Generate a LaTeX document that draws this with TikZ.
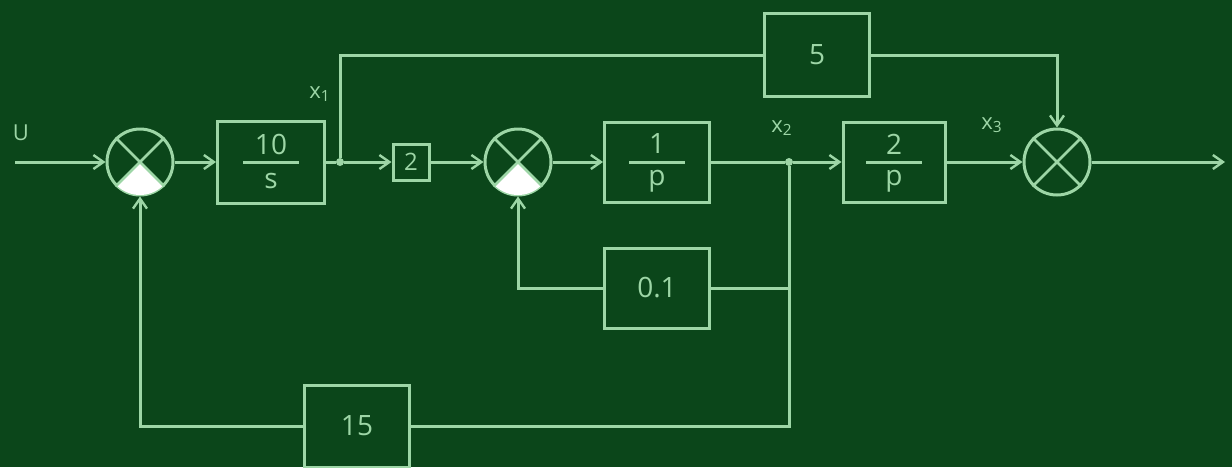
\documentclass[tikz,border=0pt]{standalone}
\usepackage{fontspec}
\setmainfont{Open Sans}
\usetikzlibrary{arrows.meta}
\definecolor{board}{HTML}{0B461A}
\definecolor{chalk}{HTML}{9DD6A6}
\tikzset{
  wire/.style={draw=chalk, line width=1.5pt},
  arr/.style={wire, -{Straight Barb[length=5pt,width=7pt,line width=1.2pt]}},
  blk/.style={draw=chalk, line width=1.5pt, minimum width=#1*0.5pt, inner sep=0pt},
  sumj/.style={circle, draw=chalk, line width=1.5pt, minimum size=33pt, inner sep=0pt},
  lbl/.style={text=chalk, font=\fontsize{11}{13}\selectfont},
  num/.style={text=chalk, font=\fontsize{14}{16}\selectfont},
  dot/.style={circle, fill=chalk, inner sep=0pt, minimum size=4pt},
}
\newcommand{\sumcross}[1]{%
  \draw[chalk, line width=1.3pt] (#1.45) -- (#1.225) (#1.135) -- (#1.315);
}
\begin{document}
\begin{tikzpicture}[x=0.5pt,y=-0.5pt]
\fill[board] (0,0) rectangle (1232,467);
\useasboundingbox (0,0) rectangle (1232,467);

% summing junctions
\node[sumj] (s1) at (140,162) {};
\node[sumj] (s2) at (518,162) {};
\node[sumj] (s3) at (1057,162) {};
\fill[white] (140,162) -- ++(45:33) arc[start angle=45,end angle=135,radius=33] -- cycle;
\fill[white] (518,162) -- ++(45:33) arc[start angle=45,end angle=135,radius=33] -- cycle;
\sumcross{s1}
\sumcross{s2}
\sumcross{s3}

% blocks
\node[blk=107, minimum height=41pt] (g1) at (271,162) {};
\node[blk=36, minimum height=18pt, num, font=\fontsize{12}{14}\selectfont] (g2) at (411,162) {2};
\node[blk=105, minimum height=40pt] (g3) at (657,162) {};
\node[blk=102, minimum height=40pt] (g4) at (894,162) {};
\node[blk=105, minimum height=41.5pt, num] (g5) at (817,55) {5};
\node[blk=105, minimum height=40pt, num] (g6) at (657,288) {0.1};
\node[blk=105, minimum height=41pt, num] (g7) at (357,426) {15};

% fractions
\draw[wire] (243,162) -- (299,162);
\node[num] (n1) at (271,144) {10};
\node[num] (d1) at (271,181) {s};
\draw[wire] (629,162) -- (685,162);
\node[num] (n3) at (657,144) {1};
\node[num] (d3) at (657,181) {p};
\draw[wire] (866,162) -- (922,162);
\node[num] (n4) at (894,144) {2};
\node[num] (d4) at (894,181) {p};

% branch points and free ends
\node[dot] (b1) at (340,162) {};
\node[dot] (b2) at (789,162) {};
\coordinate (in) at (15,162);
\coordinate (out) at (1225,162);
\coordinate (c2) at (789,288);
\coordinate (c3) at (789,426);

% labels
\node[lbl] (lu) at (21,133) {U};
\node[lbl] (l1) at (320,94) {x\textsubscript{1}};
\node[lbl] (l2) at (782,128) {x\textsubscript{2}};
\node[lbl] (l3) at (992,125) {x\textsubscript{3}};

% forward path
\draw[arr] (in) -- (s1.west);
\draw[arr] (s1.east) -- (g1.west);
\draw[wire] (g1.east) -- (b1);
\draw[arr] (b1) -- (g2.west);
\draw[arr] (g2.east) -- (s2.west);
\draw[arr] (s2.east) -- (g3.west);
\draw[wire] (g3.east) -- (b2);
\draw[arr] (b2) -- (g4.west);
\draw[arr] (g4.east) -- (s3.west);
\draw[arr] (s3.east) -- (out);

% feedforward through 5
\draw[wire] (b1) |- (g5.west);
\draw[arr] (g5.east) -| (s3.north);

% feedback loops
\draw[wire] (b2) -- (c3) -- (g7.east);
\draw[wire] (c2) -- (g6.east);
\draw[arr] (g6.west) -| (s2.south);
\draw[arr] (g7.west) -| (s1.south);
\end{tikzpicture}
\end{document}
